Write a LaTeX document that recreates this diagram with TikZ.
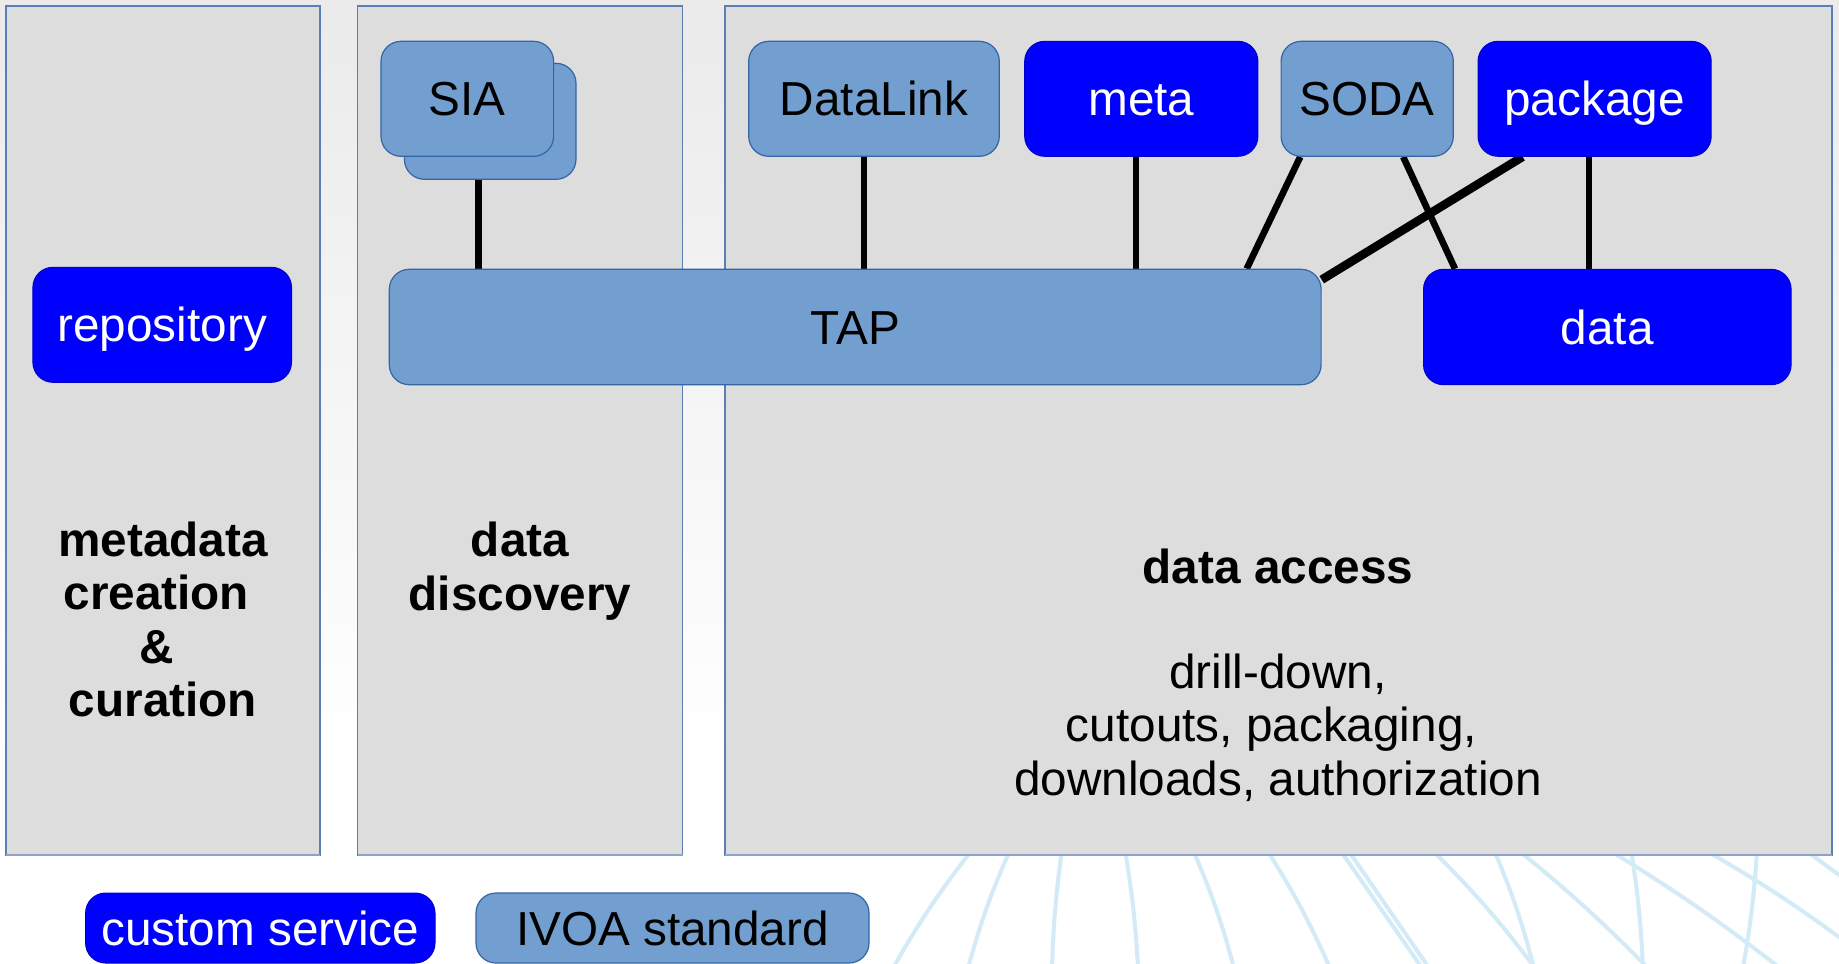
\documentclass[tikz,border=0pt]{standalone}
\usepackage{fontspec}
\setmainfont{Liberation Sans}
\usetikzlibrary{calc}
\pgfdeclarelayer{back}
\pgfdeclarelayer{links}
\pgfsetlayers{back,links,main}
\definecolor{custblue}{HTML}{0000FF}
\definecolor{custedge}{HTML}{0000C8}
\definecolor{ivoa}{HTML}{729FCF}
\definecolor{ivoaedge}{HTML}{3465A4}
\definecolor{panelfill}{HTML}{DDDDDD}
\definecolor{paneledge}{HTML}{5A7FB5}
\definecolor{panelshadow}{HTML}{8DA2C8}
\definecolor{arccol}{HTML}{D2EBF7}
\begin{document}
\begin{tikzpicture}[x=0.5pt,y=-0.5pt,
  every node/.style={font=\fontsize{23.85pt}{26.75pt}\selectfont},
  boxbase/.style={rounded corners=10pt, inner sep=0pt, minimum height=57.5pt,
    text height=17.1pt, text depth=0pt},
  custom/.style={boxbase, draw=custedge, line width=0.5pt, fill=custblue, text=white},
  ivoastd/.style={boxbase, draw=ivoaedge, line width=0.6pt, fill=ivoa, text=black},
  panel/.style={draw=paneledge, line width=0.7pt, fill=panelfill},
  link/.style={line width=3.3pt, black},
  biglink/.style={line width=4.3pt, black},
  arcline/.style={draw=arccol, line width=2pt},
  paneltitle/.style={align=center, font=\fontsize{23.85pt}{26.75pt}\selectfont\bfseries},
  desc/.style={align=center}
]
\useasboundingbox (0,0) rectangle (1839,963);

\begin{pgfonlayer}{back}
  \fill[white] (0,0) rectangle (1839,963);
  \shade[top color=black!8, bottom color=white] (0,0) rectangle (1839,760);
  % decorative background arcs
  \draw[arcline] (972,850) to[bend right=4] (893,968);
  \draw[arcline] (1010,850) to[bend right=4] (968,968);
  \draw[arcline] (1062,850) to[bend right=3] (1052,968);
  \draw[arcline] (1125,850) to[bend left=3] (1138,968);
  \draw[arcline] (1193,850) to[bend left=4] (1234,968);
  \draw[arcline] (1267,850) to[bend left=4] (1330,968);
  \draw[arcline] (1340,850) -- (1422,968);
  \draw[arcline] (1348,850) -- (1429,968);
  \draw[arcline] (1432,850) to[bend left=4] (1535,968);
  \draw[arcline] (1494,850) to[bend left=4] (1534,968);
  \draw[arcline] (1518,850) to[bend left=3] (1648,968);
  \draw[arcline] (1609,850) to[bend left=3] (1780,968);
  \draw[arcline] (1631,850) to[bend left=3] (1643,968);
  \draw[arcline] (1705,850) to[bend left=3] (1850,945);
  \draw[arcline] (1757,850) to[bend left=3] (1743,968);
  \draw[arcline] (1805,850) -- (1850,883);
  % panels
  \draw[panel] (6,6) rectangle (320,855);
  \draw[panel] (357.7,6) rectangle (682.6,855);
  \draw[panel] (724.8,6) rectangle (1832,855);
  \draw[panelshadow, line width=1.2pt] (6,855) -- (320,855);
  \draw[panelshadow, line width=1.2pt] (357.7,855) -- (682.6,855);
  \draw[panelshadow, line width=1.2pt] (724.8,855) -- (1832,855);
\end{pgfonlayer}

% panel titles
\node[paneltitle] (t1) at (163,619.5) {metadata\\creation\kern0.278em\\\&\kern0.278em\\curation};
\node[paneltitle] (t2) at (520,571) {data\\discovery};
\node[paneltitle] (t3) at (1278,566.5) {data access};
\node[desc] (t4) at (1278,727.5) {drill-down,\\cutouts, packaging,\kern0.278em\\downloads, authorization};

% service boxes
\node[custom, minimum width=129.3pt] (repo) at (162.2,324.8) {repository};
\node[ivoastd, minimum width=85.8pt, minimum height=58pt] (siab) at (490.2,121.3) {};
\node[ivoastd, minimum width=86.3pt] (sia) at (467.3,98.8) {SIA};
\node[ivoastd, minimum width=465.9pt, minimum height=57.7pt] (tap) at (855.2,327) {TAP};
\node[ivoastd, minimum width=125.3pt] (datalink) at (874,98.8) {DataLink};
\node[custom, minimum width=116.6pt] (meta) at (1141.3,98.8) {meta};
\node[ivoastd, minimum width=86.1pt] (soda) at (1367.2,98.8) {SODA};
\node[custom, minimum width=116.6pt] (package) at (1594.6,98.8) {package};
\node[custom, minimum width=183.8pt, minimum height=57.7pt] (data) at (1607.3,327) {data};

% legend
\node[custom, minimum width=174.7pt, minimum height=35pt] (legcustom) at (260.3,928) {custom service};
\node[ivoastd, minimum width=196.5pt, minimum height=35pt] (legivoa) at (672.5,928) {IVOA standard};

% connectors
\begin{pgfonlayer}{links}
  \draw[link] ([xshift=-6pt]siab.south) -- ([xshift=-6pt]siab.south |- tap.north);
  \draw[link] ([xshift=-5pt]datalink.south) -- ([xshift=-5pt]datalink.south |- tap.north);
  \draw[link] ([xshift=-2.7pt]meta.south) -- ([xshift=-2.7pt]meta.south |- tap.north);
  \draw[link] ([xshift=-33.5pt]soda.south) -- ([xshift=-37.5pt]tap.north east);
  \draw[link] ([xshift=18pt]soda.south) -- ([xshift=16pt]data.north west);
  \draw[biglink] ([xshift=-36pt]package.south) -- ([yshift=-5.5pt]tap.north east);
  \draw[link] ([xshift=-2.8pt]package.south) -- ([xshift=-2.8pt]package.south |- data.north);
\end{pgfonlayer}
\end{tikzpicture}
\end{document}
